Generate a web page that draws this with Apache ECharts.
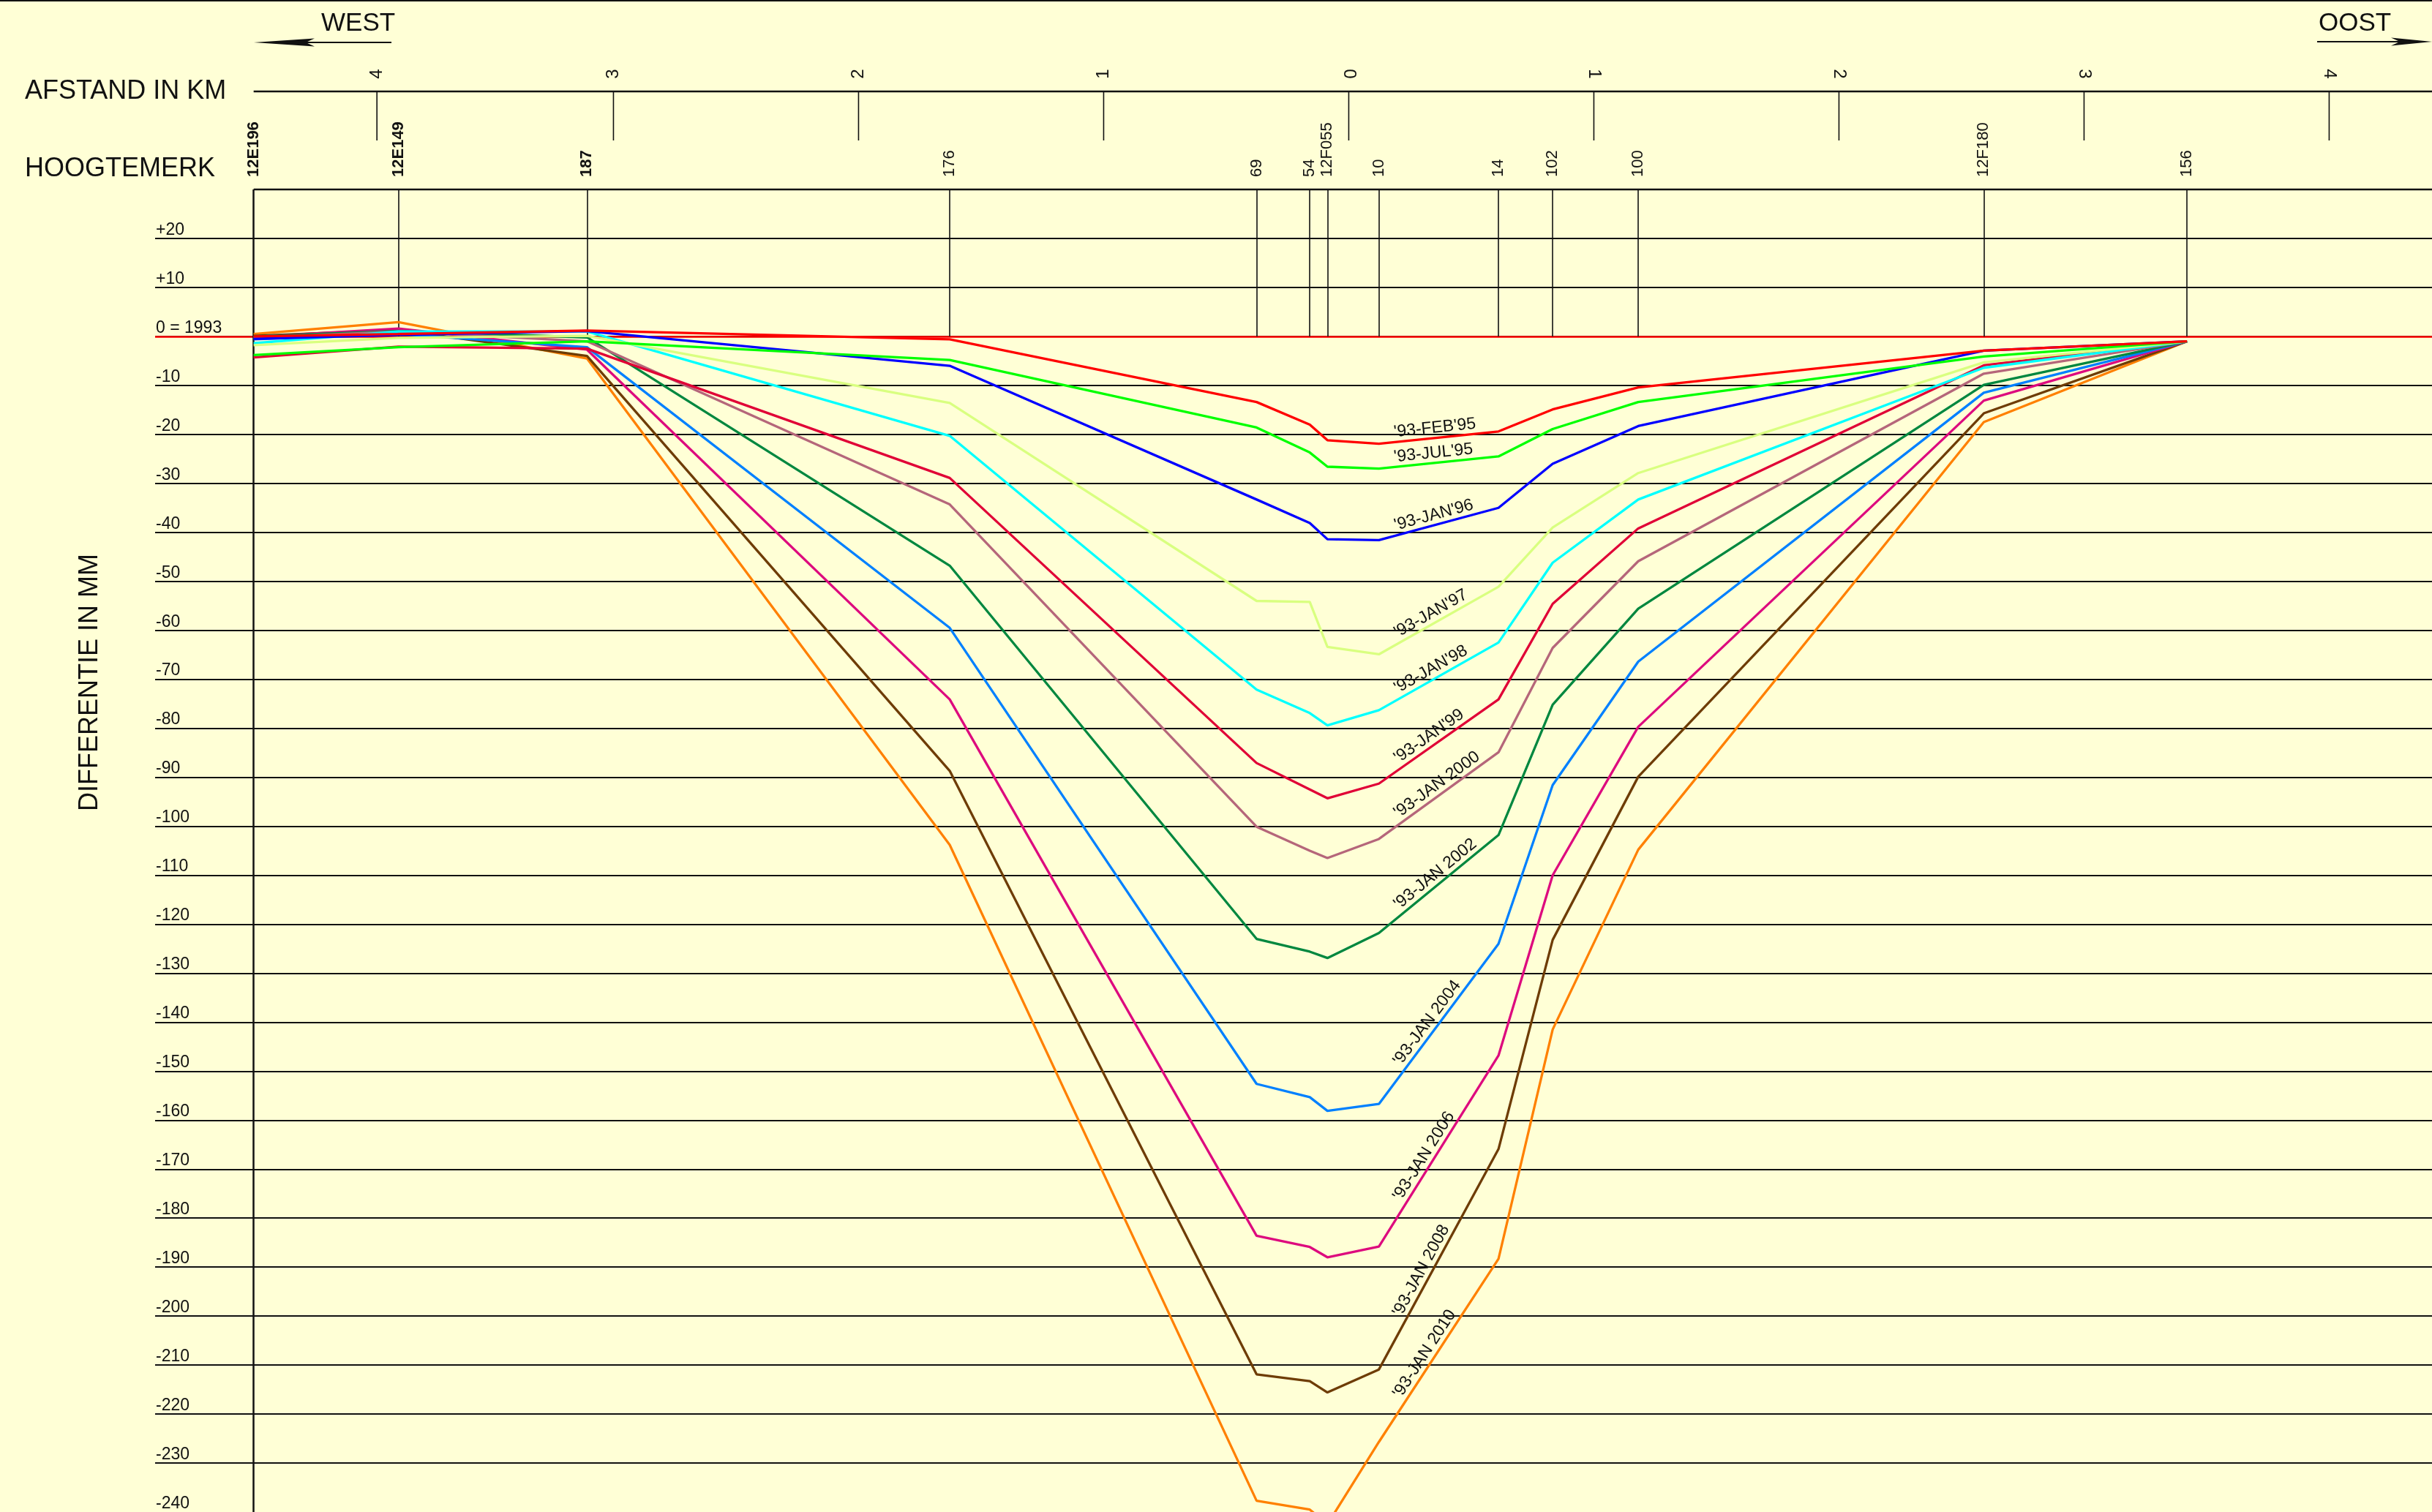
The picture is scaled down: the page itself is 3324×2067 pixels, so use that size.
<!DOCTYPE html>
<html>
<head>
<meta charset="utf-8">
<script src="https://cdn.jsdelivr.net/npm/echarts@6/dist/echarts.min.js"></script>
<style>
html,body{margin:0;padding:0;background:#ffffd6;}
#c{width:3324px;height:2067px;}
</style>
</head>
<body>
<div id="c"></div>
<script>
// ---------------- DATA ----------------
const benchmarks = ['12E196','12E149','187','176','69','54','12F055','10','14','102','100','12F180','156'];
const boldBenchmarks = ['12E196','12E149','187'];
// distance along the profile in km (west negative, east positive)
const benchmarkKm = [-4.468,-3.877,-3.108,-1.628,-0.376,-0.159,-0.087,0.123,0.611,0.832,1.181,2.591,3.420];

const kmTickPos = [-3.965,-3,-2,-1,0,1,2,3,4];
const kmTickLabels = ['4','3','2','1','0','1','2','3','4'];

const seriesNames = ["'93-FEB'95","'93-JUL'95","'93-JAN'96","'93-JAN'97","'93-JAN'98","'93-JAN'99",
  "'93-JAN 2000","'93-JAN 2002","'93-JAN 2004","'93-JAN 2006","'93-JAN 2008","'93-JAN 2010"];
const seriesColors = ['#ff0000','#00ff00','#0000ff','#d9ff80','#00ffff','#e00036',
  '#b5667a','#00873f','#0080ff','#dd0a7e','#6e3c05','#ff8000'];

const feb95  = [0.0, 0.5, 1.2, -0.6, -13.4, -18.0, -21.2, -21.9, -19.4, -14.9, -10.4, -2.9, -1.0];
const jul95  = [-3.8, -2.2, -1.0, -4.8, -18.6, -23.7, -26.6, -27.0, -24.5, -18.9, -13.4, -4.1, -1.0];
const jan96  = [-0.5, 0.3, 1.1, -6.0, -33.3, -38.1, -41.4, -41.6, -35.0, -26.0, -18.3, -2.9, -1.0];
const jan97  = [-1.8, -0.3, 0.1, -13.6, -54.0, -54.2, -63.4, -64.9, -51.1, -39.0, -27.9, -5.3, -1.0];
const jan98  = [-1.4, 1.0, 1.0, -20.3, -72.1, -76.9, -79.4, -76.3, -62.5, -46.2, -33.3, -6.4, -1.0];
const jan99  = [-4.3, -2.1, -2.5, -28.9, -87.1, -92.5, -94.3, -91.3, -74.1, -54.6, -39.2, -5.9, -1.0];
const jan2000 = [-0.3, 1.0, -1.0, -34.3, -100.1, -105.0, -106.5, -102.6, -84.9, -63.6, -45.9, -7.6, -1.0];
const jan2002 = [0.0, 1.1, -0.2, -46.8, -123.0, -125.6, -126.9, -121.8, -101.8, -75.2, -55.6, -9.9, -1.0];
const jan2004 = [-0.6, 0.5, -2.2, -59.5, -152.6, -155.3, -158.1, -156.7, -124.0, -91.6, -66.4, -11.5, -1.0];
const jan2006 = [-0.1, 1.6, -2.7, -74.1, -183.6, -185.9, -188.0, -185.8, -146.8, -110.0, -79.7, -13.1, -1.0];
const jan2008 = [0.1, 1.3, -4.0, -88.7, -211.9, -213.3, -215.6, -210.9, -165.9, -123.2, -89.9, -15.7, -1.0];
const jan2010 = [0.5, 2.9, -4.5, -103.8, -237.7, -239.5, -242.5, -225.7, -188.3, -141.5, -104.8, -17.5, -1.0];
const seriesValues = [feb95, jul95, jan96, jan97, jan98, jan99, jan2000, jan2002, jan2004, jan2006, jan2008, jan2010];

const yMin = -240, yMax = 30, yStep = 10;
const zeroLabel = '0 = 1993';
const labelFromIdx = 7, labelToIdx = 8; // labels follow segment 10 -> 14

// ---------------- CHART ----------------
const FONT = '"Liberation Sans", Arial, Helvetica, sans-serif';
const INK = '#111111';
const chart = echarts.init(document.getElementById('c'), null, {renderer: 'canvas'});

const verticals = benchmarks.map((b, i) => {
  const bottom = i === 0 ? yMin : 0;
  return [
    {coord: [benchmarkKm[i], yMax], lineStyle: {color: INK, width: i === 0 ? 2.5 : 1.6, type: 'solid'}},
    {coord: [benchmarkKm[i], bottom]}
  ];
});

const option = {
  backgroundColor: '#ffffd6',
  animation: false,
  grid: [{left: 212, top: 259, width: 3112, height: 1809, containLabel: false}],
  xAxis: [{type: 'value', gridIndex: 0, min: -4.87, max: 4.4196, show: false}],
  yAxis: [{
    type: 'value', gridIndex: 0, min: yMin, max: yMax, interval: yStep,
    axisLine: {show: false}, axisTick: {show: false},
    axisLabel: {
      inside: true, align: 'left', verticalAlign: 'bottom', margin: 1,
      fontSize: 23, fontFamily: FONT, color: INK,
      formatter: v => v === yMax ? '' : (v > 0 ? '+' + v : (v === 0 ? zeroLabel : String(v)))
    },
    splitLine: {show: true, showMaxLine: false, showMinLine: false, lineStyle: {color: INK, width: 2}}
  }],
  series: [
    {
      type: 'line', data: [], z: 1, silent: true,
      markLine: {
        silent: true, symbol: 'none', animation: false,
        label: {show: false},
        lineStyle: {color: INK, width: 1.6, type: 'solid'},
        data: [
          {yAxis: 0, lineStyle: {color: '#ff0000', width: 2.5, type: 'solid'}},
          ...verticals
        ]
      }
    },
    ...seriesNames.map((name, i) => ({
      type: 'line', name,
      data: benchmarkKm.map((k, j) => [k, seriesValues[i][j]]),
      symbol: 'none', clip: true, silent: true,
      lineStyle: {color: seriesColors[i], width: 3.3},
      z: 30 - i
    }))
  ]
};
chart.setOption(option);

// ---------------- DECORATION (header & line labels) ----------------
const toPx = (k, v) => chart.convertToPixel({gridIndex: 0}, [k, v]);
const g = [];
const txt = (text, x, y, opt = {}) => ({
  type: 'text', x, y, rotation: opt.rotation || 0, z: 100,
  style: {
    text, fill: INK, fontSize: opt.fontSize || 35, fontFamily: FONT, fontWeight: opt.fontWeight || 'normal',
    align: opt.align || 'left', textAlign: opt.align || 'left',
    verticalAlign: opt.va || 'middle', textVerticalAlign: opt.va || 'middle'
  }
});
const ln = (x1, y1, x2, y2, w) => ({type: 'line', z: 100, shape: {x1, y1, x2, y2}, style: {stroke: INK, lineWidth: w}});

// frame top
g.push(ln(0, 1, 3324, 1, 2));
// direction arrows
g.push(txt('WEST', 439, 32, {fontSize: 35}));
g.push(txt('OOST', 3169, 32, {fontSize: 35}));
g.push(ln(400, 58, 535, 58, 2));
g.push({type: 'polygon', z: 100, shape: {points: [[347, 58], [430, 52.5], [418, 58], [430, 63.5]]}, style: {fill: INK}});
g.push(ln(3167, 57, 3290, 57, 2));
g.push({type: 'polygon', z: 100, shape: {points: [[3324, 57], [3268, 51.5], [3280, 57], [3268, 62.5]]}, style: {fill: INK}});
// row titles
g.push(txt('AFSTAND IN KM', 34, 125, {fontSize: 36}));
g.push(txt('HOOGTEMERK', 34, 231, {fontSize: 36}));
g.push(txt('DIFFERENTIE IN MM', 123, 933, {fontSize: 36, align: 'center', rotation: Math.PI / 2}));

// km axis
const leftX = toPx(benchmarkKm[0], 0)[0];
g.push(ln(leftX, 125, 3324, 125, 2.5));
kmTickPos.forEach((k, i) => {
  const x = toPx(k, 0)[0];
  g.push(ln(x, 125, x, 192, 1.6));
  g.push(txt(kmTickLabels[i], x, 101, {fontSize: 24, align: 'center', rotation: k < 0 ? Math.PI / 2 : -Math.PI / 2}));
});
// top border of plot / benchmark row
g.push(ln(leftX, 259, 3324, 259, 2.5));
benchmarks.forEach((b, i) => {
  const x = toPx(benchmarkKm[i], 0)[0];
  g.push(txt(b, x, 242, {fontSize: 22, rotation: Math.PI / 2, align: 'left', va: 'middle',
    fontWeight: boldBenchmarks.includes(b) ? 'bold' : 'normal'}));
});

// line labels along the segment 10 -> 14
seriesNames.forEach((name, i) => {
  const v = seriesValues[i];
  const p0 = toPx(benchmarkKm[labelFromIdx], v[labelFromIdx]);
  const p1 = toPx(benchmarkKm[labelToIdx], v[labelToIdx]);
  const dx = p1[0] - p0[0], dy = p1[1] - p0[1];
  const len = Math.hypot(dx, dy);
  const ux = dx / len, uy = dy / len;
  const sinT = -uy; // rising line -> positive
  const t = (20 + 19 * sinT) / dx;
  const ax = p0[0] + dx * t + uy * 2;
  const ay = p0[1] + dy * t - ux * 2;
  g.push(txt(name, ax, ay, {fontSize: 23, rotation: Math.atan2(-dy, dx), align: 'left', va: 'bottom'}));
});

chart.setOption({graphic: g});
</script>
</body>
</html>
